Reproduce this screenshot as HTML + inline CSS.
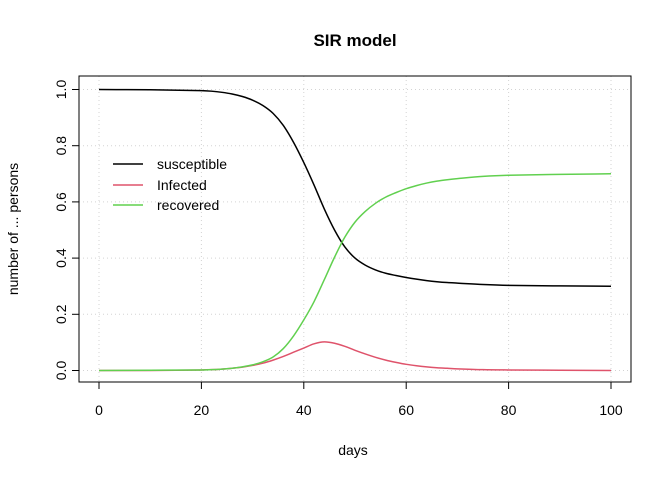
<!DOCTYPE html>
<html><head><meta charset="utf-8"><style>
body{margin:0;background:#fff}
text{font-family:"Liberation Sans",sans-serif;font-size:14px;fill:#000}
</style></head><body>
<svg id="chart" width="672" height="480">
<text x="355" y="46" text-anchor="middle" style="font-weight:bold;font-size:17px">SIR model</text>
<g id="grid"></g>
<g id="axes"></g>
<g id="series"></g>
<rect x="79" y="76" width="552" height="306" fill="none" stroke="#000"/>
<text x="353" y="455" text-anchor="middle">days</text>
<text transform="translate(18,229) rotate(-90)" text-anchor="middle">number of ... persons</text>
<g>
<line x1="113" x2="143" y1="164" y2="164" stroke="#000" stroke-width="1.5"/>
<text x="157" y="169">susceptible</text>
<line x1="113" x2="143" y1="185" y2="185" stroke="#DF536B" stroke-width="1.5"/>
<text x="157" y="190">Infected</text>
<line x1="113" x2="143" y1="205" y2="205" stroke="#61D04F" stroke-width="1.5"/>
<text x="157" y="210">recovered</text>
</g>
</svg>
<script>
const days=[0,10,20,22,24,26,28,30,32,34,36,38,40,42,44,46,48,50,52,54,56,58,60,62,64,66,68,70,75,80,90,100];
const susceptible=[1,0.999,0.996,0.994,0.99,0.984,0.975,0.962,0.943,0.915,0.872,0.812,0.74,0.66,0.575,0.5,0.44,0.4,0.375,0.358,0.346,0.338,0.331,0.325,0.32,0.316,0.313,0.311,0.306,0.303,0.301,0.30];
const infected=[0,0,0.002,0.003,0.005,0.008,0.012,0.018,0.026,0.037,0.05,0.065,0.08,0.095,0.102,0.097,0.086,0.072,0.059,0.047,0.037,0.029,0.022,0.017,0.013,0.01,0.008,0.006,0.003,0.002,0.001,0];
const recovered=[0,0.001,0.002,0.003,0.005,0.008,0.013,0.02,0.031,0.048,0.078,0.123,0.18,0.245,0.323,0.403,0.474,0.528,0.566,0.595,0.617,0.633,0.647,0.658,0.667,0.674,0.679,0.683,0.691,0.695,0.698,0.70];
const xTicks=[0,20,40,60,80,100];
const yTicks=[0,0.2,0.4,0.6,0.8,1.0];
const yTickLabels=["0.0","0.2","0.4","0.6","0.8","1.0"];
const NS="http://www.w3.org/2000/svg";
const xs=d=>99+d*5.12;
const ys=v=>370.5-v*281;
function mk(t,a,p){const e=document.createElementNS(NS,t);for(const k in a)e.setAttribute(k,a[k]);p.appendChild(e);return e;}
const grid=document.getElementById('grid'),axes=document.getElementById('axes'),ser=document.getElementById('series');
xTicks.forEach(t=>{
 const g=mk('line',{x1:xs(t),x2:xs(t),y1:76,y2:382,stroke:'#d3d3d3','stroke-dasharray':'1,3'},grid);
 
 
 const l=mk('line',{x1:xs(t),x2:xs(t),y1:382,y2:389,stroke:'#000'},axes);
 
 
 const tx=mk('text',{x:xs(t),y:415,'text-anchor':'middle'},axes);tx.textContent=t;
 
 
});
mk('line',{x1:xs(0),x2:xs(100),y1:382,y2:382,stroke:'#000'},axes);
yTicks.forEach((t,i)=>{
 const g=mk('line',{x1:79,x2:631,y1:ys(t),y2:ys(t),stroke:'#d3d3d3','stroke-dasharray':'1,3'},grid);
 
 
 const l=mk('line',{x1:72,x2:79,y1:ys(t),y2:ys(t),stroke:'#000'},axes);
 
 
 const tx=mk('text',{transform:`translate(66,${ys(t)}) rotate(-90)`,'text-anchor':'middle'},axes);tx.textContent=yTickLabels[i];
 
 
});
function path(vals){
 const p=days.map((d,i)=>[xs(d),ys(vals[i])]);
 let s=`M${p[0][0]},${p[0][1]}`;
 for(let i=0;i<p.length-1;i++){
  const p0=p[i-1]||p[i],p1=p[i],p2=p[i+1],p3=p[i+2]||p2;
  const h=p2[0]-p1[0];
  const m1=(p2[1]-p0[1])/(p2[0]-p0[0]||1), m2=(p3[1]-p1[1])/(p3[0]-p1[0]||1);
  s+=`C${p1[0]+h/3},${p1[1]+m1*h/3} ${p2[0]-h/3},${p2[1]-m2*h/3} ${p2[0]},${p2[1]}`;
 }
 return s;
}
[[susceptible,'#000','line-susceptible'],[infected,'#DF536B','line-infected'],[recovered,'#61D04F','line-recovered']].forEach(([v,c,n])=>{
 const e=mk('path',{d:path(v),fill:'none',stroke:c,'stroke-width':1.5},ser);
 
 
});
</script>
</body></html>
